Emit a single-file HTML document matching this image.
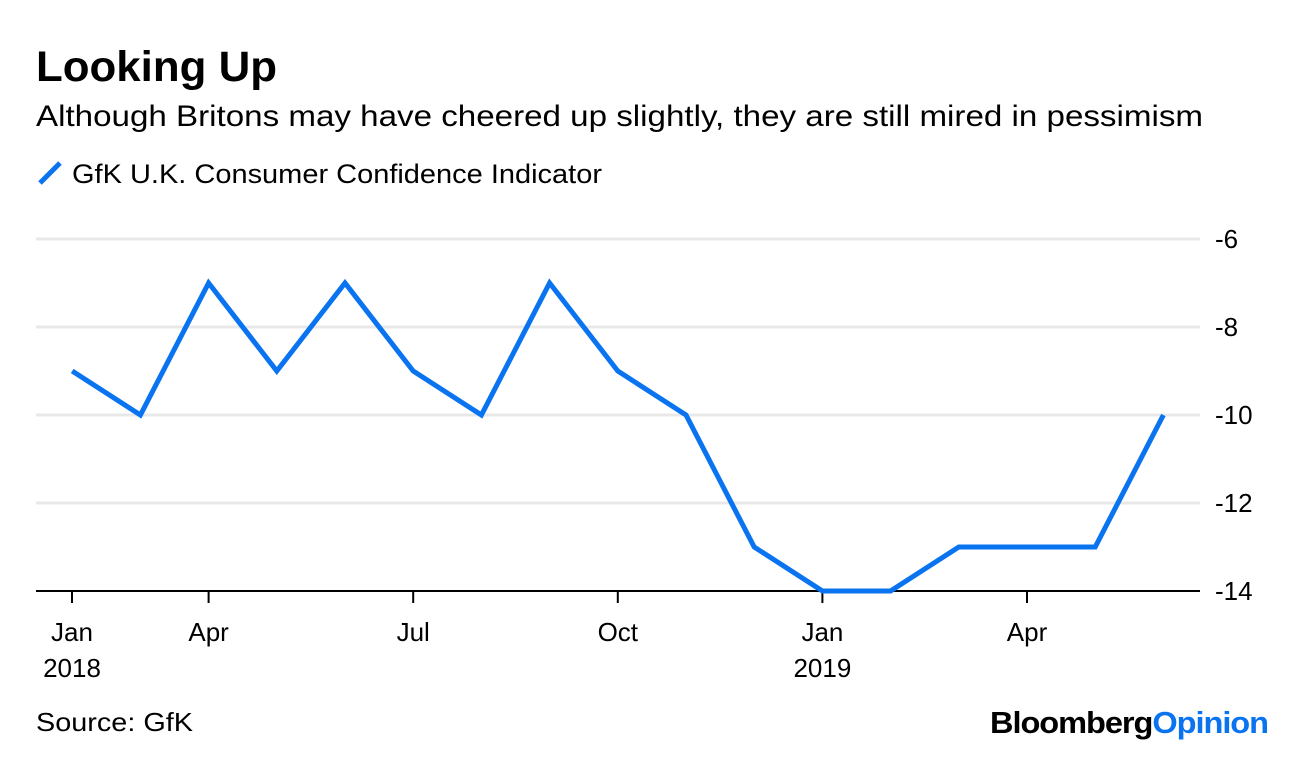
<!DOCTYPE html>
<html><head><meta charset="utf-8"><style>
body{margin:0;background:#fff;width:1296px;height:754px;overflow:hidden;font-family:"Liberation Sans",Arial,sans-serif;}
svg text{font-family:"Liberation Sans",Arial,sans-serif;}
</style></head><body>
<svg id="chart" width="1296" height="754" xmlns="http://www.w3.org/2000/svg">
<text x="36" y="81" font-size="43" font-weight="bold" fill="#000" textLength="241" lengthAdjust="spacingAndGlyphs">Looking Up</text>
<text x="36" y="126" font-size="30" fill="#000" textLength="1167" lengthAdjust="spacingAndGlyphs">Although Britons may have cheered up slightly, they are still mired in pessimism</text>
<g>
<line x1="40" y1="183" x2="60" y2="163" stroke="#0a74f0" stroke-width="5"/>
<text x="72" y="183" font-size="27" fill="#000" textLength="530" lengthAdjust="spacingAndGlyphs">GfK U.K. Consumer Confidence Indicator</text>
</g>
<g id="grid"></g>
<g id="xaxis"></g>
<g id="series"></g>
<text x="36" y="731" font-size="26" fill="#000" textLength="157" lengthAdjust="spacingAndGlyphs">Source: GfK</text>
<text x="1268" y="733" text-anchor="end" font-size="31" font-weight="bold" letter-spacing="-1" fill="#000" textLength="278" lengthAdjust="spacingAndGlyphs">Bloomberg<tspan fill="#0a74f0">Opinion</tspan></text>
</svg>
<script>
const monthIdx=[1,2,3,4,5,6,7,8,9,10,11,12,13,14,15,16,17];
const values=[-9,-10,-7,-9,-7,-9,-10,-7,-9,-10,-13,-14,-14,-13,-13,-13,-10];
const yTicks=[-6,-8,-10,-12,-14];
const xTickIdx=[1,3,6,9,12,15];
const xTickLabels=["Jan","Apr","Jul","Oct","Jan","Apr"];
const xTickYears=["2018","","","","2019",""];
const NS="http://www.w3.org/2000/svg";
const xs=i=>4+68.2*i;
const ys=v=>239+(-6-v)*44;
function mk(t,a,p){const e=document.createElementNS(NS,t);for(const k in a)e.setAttribute(k,a[k]);p.appendChild(e);return e;}
const grid=document.getElementById('grid');
yTicks.forEach(v=>{
  const l=mk('line',{x1:36,x2:1200,y1:ys(v),y2:ys(v),stroke:v===-14?'#000':'#e8e8e8','stroke-width':v===-14?2:3},grid);
  
  
  const t=mk('text',{x:1215,y:ys(v)+9,'font-size':26,fill:'#000'},grid);t.textContent=v;
  
  
});
const xa=document.getElementById('xaxis');
xTickIdx.forEach((m,i)=>{
  const x=i===0?72:xs(m);
  const tk=mk('line',{x1:x,x2:x,y1:591,y2:603,stroke:'#000','stroke-width':2},xa);
  
  
  const t=mk('text',{x:x,y:641,'font-size':26,'text-anchor':'middle',fill:'#000'},xa);t.textContent=xTickLabels[i];
  
  
  if(xTickYears[i]){const y=mk('text',{x:x,y:677,'font-size':26,'text-anchor':'middle',fill:'#000'},xa);y.textContent=xTickYears[i];
  
  }
});
const s=document.getElementById('series');
const p=mk('polyline',{points:monthIdx.map((m,i)=>xs(m)+','+ys(values[i])).join(' '),fill:'none',stroke:'#0a74f0','stroke-width':5,'stroke-linejoin':'miter'},s);


</script>
</body></html>
